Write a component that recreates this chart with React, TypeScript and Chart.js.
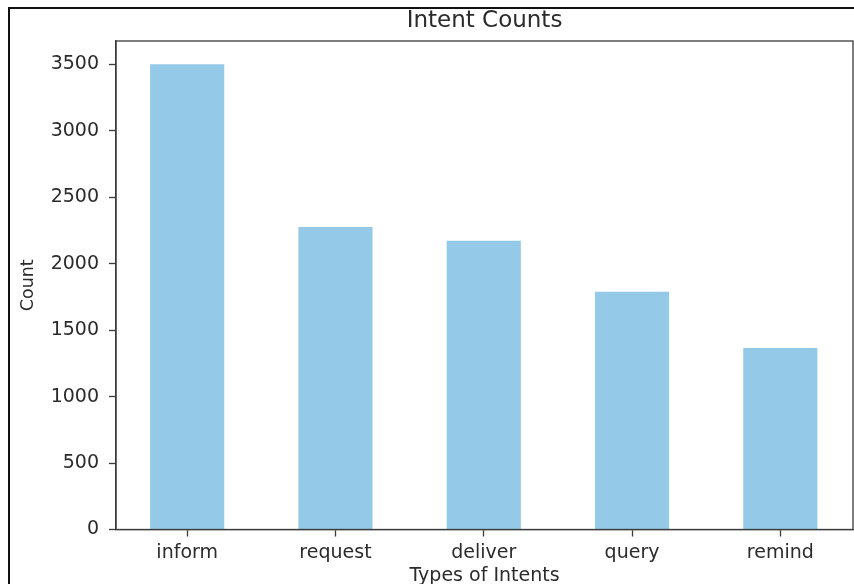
import React, { useEffect, useRef } from "react";
import { Chart, registerables } from "chart.js";

Chart.register(...registerables);

const categories = ["inform", "request", "deliver", "query", "remind"];
const counts = [3500, 2275, 2172, 1788, 1365];
const yTicks = [0, 500, 1000, 1500, 2000, 2500, 3000, 3500];
const chartTitle = "Intent Counts";
const xTitle = "Types of Intents";
const yTitle = "Count";

const FONT = "'DejaVu Sans', sans-serif";
const TEXT = "#2b2b2b";
const SPINE = "#3a3a3a";
const BAR = "#94c9e7";

const boxPlugin = {
  id: "axesBox",
  afterDraw(chart: any) {
    const { ctx, chartArea: a } = chart;
    ctx.save();
    ctx.strokeStyle = SPINE;
    ctx.lineWidth = 1.3;
    ctx.strokeRect(a.left, a.top, a.right - a.left, a.bottom - a.top);
    ctx.fillStyle = TEXT;
    ctx.font = `normal 23px ${FONT}`;
    ctx.textAlign = "center";
    ctx.textBaseline = "middle";
    ctx.fillText(chartTitle, (a.left + a.right) / 2, 21.5);
    ctx.restore();
  },
};

export default function App() {
  const ref = useRef<HTMLCanvasElement | null>(null);

  useEffect(() => {
    if (!ref.current) return;
    const chart = new Chart(ref.current, {
      type: "bar",
      data: {
        datasets: [
          {
            label: yTitle,
            data: counts.map((v, i) => ({ x: i, y: v })),
            backgroundColor: BAR,
            borderWidth: 0,
            barPercentage: 0.5,
            categoryPercentage: 1,
          },
        ],
      },
      options: {
        responsive: false,
        animation: false,
        layout: { padding: { left: 0, right: 1, top: 41, bottom: 0 } },
        plugins: {
          legend: { display: false },
          tooltip: { enabled: false },
          title: { display: false },
        },
        scales: {
          x: {
            type: "linear",
            offset: false,
            min: -0.48,
            max: 4.49,
            afterBuildTicks: (s: any) => {
              s.ticks = categories.map((_, i) => ({ value: i }));
            },
            afterFit: (s: any) => {
              s.height = 54.5;
            },
            grid: {
              display: true,
              offset: false,
              drawOnChartArea: false,
              drawTicks: true,
              tickLength: 7,
              tickColor: SPINE,
              tickWidth: 1.3,
            },
            border: { display: true, color: SPINE, width: 1.3 },
            ticks: {
              autoSkip: false,
              maxRotation: 0,
              padding: 5,
              color: TEXT,
              font: { family: FONT, size: 19 },
              callback: (v: any) => categories[Math.round(Number(v))] ?? "",
            },
            title: {
              display: true,
              text: xTitle,
              color: TEXT,
              font: { family: FONT, size: 19, lineHeight: 1 },
              padding: { top: 0, bottom: -1.5 },
            },
          },
          y: {
            type: "linear",
            min: 0,
            max: 3675,
            afterBuildTicks: (s: any) => {
              s.ticks = yTicks.map((v) => ({ value: v }));
            },
            afterFit: (s: any) => {
              s.width = 116;
            },
            grid: {
              display: true,
              drawOnChartArea: false,
              drawTicks: true,
              tickLength: 7,
              tickColor: SPINE,
              tickWidth: 1.3,
            },
            border: { display: true, color: SPINE, width: 1.3 },
            ticks: {
              padding: 10,
              color: TEXT,
              font: { family: FONT, size: 19 },
              callback: (v: any) => String(v),
            },
            title: {
              display: true,
              text: yTitle,
              color: TEXT,
              font: { family: FONT, size: 17.5, lineHeight: 1.2 },
              padding: { top: 18, bottom: 0 },
            },
          },
        },
      },
      plugins: [boxPlugin],
    } as any);
    return () => chart.destroy();
  }, []);

  return (
    <div
      style={{
        position: "fixed",
        left: 0,
        top: 0,
        width: 854,
        height: 584,
        overflow: "hidden",
        background: "#ffffff",
      }}
    >
      <canvas
        ref={ref}
        width={854}
        height={584}
        style={{ position: "absolute", left: 0, top: 0, width: 854, height: 584 }}
      />
      <div
        style={{
          position: "absolute",
          left: 8,
          top: 6.5,
          width: 1000,
          height: 1000,
          borderLeft: "2px solid #111",
          borderTop: "2px solid #111",
          pointerEvents: "none",
        }}
      />
    </div>
  );
}
